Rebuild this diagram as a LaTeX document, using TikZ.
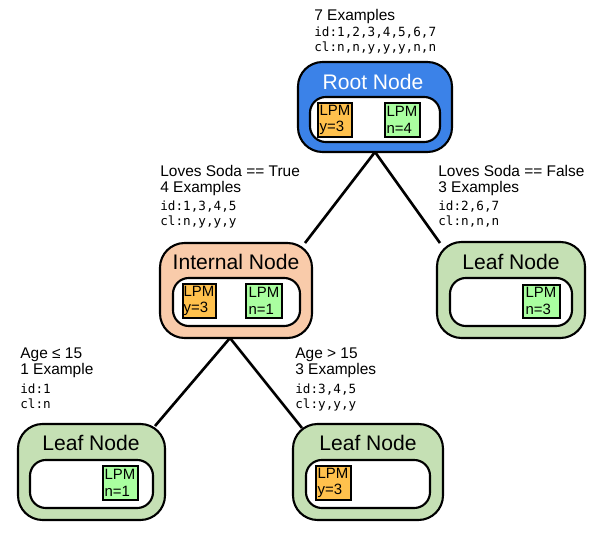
\documentclass[tikz,border=0pt]{standalone}
\usepackage{fontspec}
\setmainfont{Liberation Sans}
\setmonofont{DejaVu Sans Mono}
\begin{document}
\begin{tikzpicture}[x=0.02cm,y=-0.02cm]
\definecolor{rootblue}{HTML}{3B82E8}
\definecolor{peach}{HTML}{F9CBAA}
\definecolor{leafgreen}{HTML}{C5E0B4}
\definecolor{lpmorange}{HTML}{FFC14D}
\definecolor{lpmgreen}{HTML}{AAFFA0}
\tikzset{
 outerbox/.style={draw=black,line width=1.2pt,rounded corners=14pt},
 innerbox/.style={draw=black,line width=1.2pt,fill=white,rounded corners=9pt},
 lpm/.style={font=\fontsize{8.5}{9.5}\selectfont,align=left,inner sep=0pt},
 lpmbox/.style={draw=black,line width=0.8pt},
 title/.style={font=\fontsize{12}{14}\selectfont},
 lab/.style={font=\fontsize{8.8}{9}\selectfont,anchor=north west,align=left,inner sep=0pt},
 mono/.style={font=\ttfamily\fontsize{7.2}{8}\selectfont,anchor=north west,align=left,inner sep=0pt},
 edge/.style={line width=1.5pt}
}
\useasboundingbox (0,0) rectangle (600,534);
% Root
\draw[outerbox,fill=rootblue] (298,62) rectangle (452,152);
\node[title,text=white] (rt) at (373,82) {Root Node};
\draw[innerbox] (310,97) rectangle (440,142);
\draw[lpmbox,fill=lpmorange] (318,103) rectangle (352,137);
\node[lpm] (r1) at (335,120) {LPM\\y=3};
\draw[lpmbox,fill=lpmgreen] (385,103) rectangle (420,137);
\node[lpm] (r2) at (402,120) {LPM\\n=4};
\coordinate (rootb) at (375,152);
% Internal
\draw[outerbox,fill=peach] (160,243) rectangle (312,338);
\node[title] (it) at (236,262) {Internal Node};
\draw[innerbox] (173,278) rectangle (300,326);
\draw[lpmbox,fill=lpmorange] (183,284) rectangle (216,318);
\node[lpm] (i1) at (199,301) {LPM\\y=3};
\draw[lpmbox,fill=lpmgreen] (246,284) rectangle (282,318);
\node[lpm] (i2) at (264,301) {LPM\\n=1};
\coordinate (intt) at (305,243);
\coordinate (intb) at (230,338);
% Leaf right
\draw[outerbox,fill=leafgreen] (437,242) rectangle (585,338);
\node[title] (lt1) at (511,262) {Leaf Node};
\draw[innerbox] (450,278) rectangle (572,326);
\draw[lpmbox,fill=lpmgreen] (523,285) rectangle (560,318);
\node[lpm] (l1) at (541,301) {LPM\\n=3};
\coordinate (l1t) at (440,243);
% Leaf bottom left
\draw[outerbox,fill=leafgreen] (18,424) rectangle (165,520);
\node[title] (lt2) at (91,443) {Leaf Node};
\draw[innerbox] (30,460) rectangle (153,508);
\draw[lpmbox,fill=lpmgreen] (103,466) rectangle (138,500);
\node[lpm] (l2) at (120,483) {LPM\\n=1};
\coordinate (l2t) at (155,426);
% Leaf bottom mid
\draw[outerbox,fill=leafgreen] (293,424) rectangle (443,520);
\node[title] (lt3) at (368,443) {Leaf Node};
\draw[innerbox] (306,460) rectangle (430,508);
\draw[lpmbox,fill=lpmorange] (316,466) rectangle (351,500);
\node[lpm] (l3) at (333,483) {LPM\\y=3};
\coordinate (l3t) at (302,428);
% edges
\draw[edge] (rootb) -- (intt);
\draw[edge] (rootb) -- (l1t);
\draw[edge] (intb) -- (l2t);
\draw[edge] (intb) -- (l3t);
% labels
\node[lab] (a0) at (314,9) {7 Examples};
\node[mono] (a1) at (314,27) {id:1,2,3,4,5,6,7\\cl:n,n,y,y,y,n,n};
\node[lab] (b0) at (160,165) {Loves Soda == True\\4 Examples};
\node[mono] (b1) at (160,201) {id:1,3,4,5\\cl:n,y,y,y};
\node[lab] (c0) at (438,165) {Loves Soda == False\\3 Examples};
\node[mono] (c1) at (438,201) {id:2,6,7\\cl:n,n,n};
\node[lab] (d0) at (20,348) {Age ≤ 15\\1 Example};
\node[mono] (d1) at (20,384) {id:1\\cl:n};
\node[lab] (e0) at (295,348) {Age > 15\\3 Examples};
\node[mono] (e1) at (295,384) {id:3,4,5\\cl:y,y,y};
\end{tikzpicture}
\end{document}
